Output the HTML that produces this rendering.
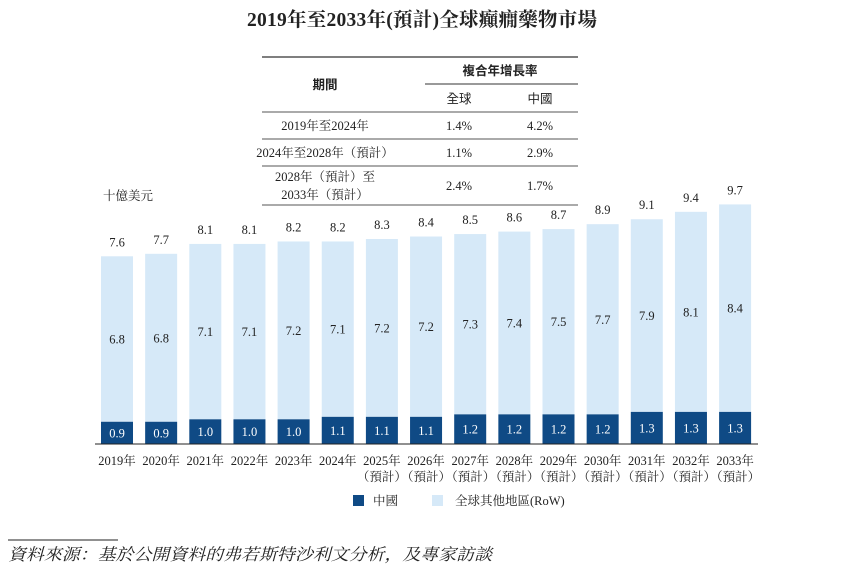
<!DOCTYPE html>
<html><head><meta charset="utf-8"><style>
body{margin:0;background:#fff;}
svg text{font-family:"Liberation Serif","Noto Serif CJK SC","Noto Sans CJK TC",serif;fill:#222;}
</style></head><body>
<svg id="c" width="845" height="583" xmlns="http://www.w3.org/2000/svg">
<text x="422" y="26" text-anchor="middle" font-size="19.5" font-weight="bold" textLength="350">2019年至2033年(預計)全球癲癇藥物市場</text>
<g font-size="12.5">
<line x1="262" y1="57" x2="578" y2="57" stroke="#333" stroke-width="1.2"/>
<line x1="425" y1="84" x2="578" y2="84" stroke="#333"/>
<line x1="262" y1="112" x2="578" y2="112" stroke="#555"/>
<line x1="262" y1="139" x2="578" y2="139" stroke="#555"/>
<line x1="262" y1="166" x2="578" y2="166" stroke="#555"/>
<line x1="262" y1="205" x2="578" y2="205" stroke="#555"/>
<text x="325" y="89" text-anchor="middle" font-weight="bold" style="font-family:'Noto Sans CJK TC',sans-serif">期間</text>
<text x="500" y="75" text-anchor="middle" font-weight="bold" style="font-family:'Noto Sans CJK TC',sans-serif">複合年增長率</text>
<text x="459" y="103" text-anchor="middle" style="font-family:'Noto Sans CJK TC',sans-serif">全球</text>
<text x="540" y="103" text-anchor="middle" style="font-family:'Noto Sans CJK TC',sans-serif">中國</text>
<text x="325" y="130" text-anchor="middle">2019年至2024年</text>
<text x="459" y="130" text-anchor="middle">1.4%</text>
<text x="540" y="130" text-anchor="middle">4.2%</text>
<text x="325" y="157" text-anchor="middle">2024年至2028年（預計）</text>
<text x="459" y="157" text-anchor="middle">1.1%</text>
<text x="540" y="157" text-anchor="middle">2.9%</text>
<text x="325" y="181" text-anchor="middle">2028年（預計）至</text>
<text x="325" y="199" text-anchor="middle">2033年（預計）</text>
<text x="459" y="190" text-anchor="middle">2.4%</text>
<text x="540" y="190" text-anchor="middle">1.7%</text>
</g>
<text x="103" y="200" font-size="12.5">十億美元</text>
<g id="bars"></g>
<line x1="95" y1="444" x2="758" y2="444" stroke="#222" stroke-width="1"/>
<g id="xl" font-size="12.5"></g>
<g font-size="12.5">
<rect x="353" y="495" width="11" height="11" fill="#0f4a85"/>
<text x="373" y="505">中國</text>
<rect x="432" y="495" width="11" height="11" fill="#d6e9f8"/>
<text x="455" y="505">全球其他地區(RoW)</text>
</g>
<line x1="8" y1="540" x2="118" y2="540" stroke="#222"/>
<text x="8" y="560" font-size="16.5" font-style="italic" textLength="484" lengthAdjust="spacingAndGlyphs">資料來源：基於公開資料的弗若斯特沙利文分析，及專家訪談</text>
</svg>
<script>
const years=["2019年","2020年","2021年","2022年","2023年","2024年","2025年","2026年","2027年","2028年","2029年","2030年","2031年","2032年","2033年"];
const forecast=[0,0,0,0,0,0,1,1,1,1,1,1,1,1,1];
const china=[0.9,0.9,1.0,1.0,1.0,1.1,1.1,1.1,1.2,1.2,1.2,1.2,1.3,1.3,1.3];
const row=[6.8,6.8,7.1,7.1,7.2,7.1,7.2,7.2,7.3,7.4,7.5,7.7,7.9,8.1,8.4];
const totals=[7.6,7.7,8.1,8.1,8.2,8.2,8.3,8.4,8.5,8.6,8.7,8.9,9.1,9.4,9.7];
const NS="http://www.w3.org/2000/svg";
const base=444,k=24.7,x0=101,pitch=44.15,bw=32;
const y=v=>base-v*k, x=i=>x0+i*pitch;
const gb=document.getElementById('bars'),gx=document.getElementById('xl');
function mk(tag,at,p){const e=document.createElementNS(NS,tag);for(const a in at)e.setAttribute(a,at[a]);p.appendChild(e);return e;}
years.forEach((yr,i)=>{
 const xc=x(i)+bw/2;
 const hc=china[i]*k, ht=totals[i]*k;
 const r=mk('rect',{x:x(i),y:y(totals[i]),width:bw,height:ht-hc,fill:'#d6e9f8'},gb);
 
 
 const c=mk('rect',{x:x(i),y:y(china[i]),width:bw,height:hc,fill:'#0f4a85'},gb);
 
 
 let t=mk('text',{x:xc,y:y(china[i])+hc/2+4.5,'text-anchor':'middle','font-size':12.5,style:'fill:#fff'},gb);t.textContent=china[i].toFixed(1);
 
 
 t=mk('text',{x:xc,y:(y(totals[i])+y(china[i]))/2+4.5,'text-anchor':'middle','font-size':12.5},gb);t.textContent=row[i].toFixed(1);
 
 
 t=mk('text',{x:xc,y:y(totals[i])-10,'text-anchor':'middle','font-size':12.5},gb);t.textContent=totals[i].toFixed(1);
 
 
 t=mk('text',{x:xc,y:465,'text-anchor':'middle'},gx);t.textContent=yr;
 
 
 if(forecast[i]){t=mk('text',{x:xc,y:481,'text-anchor':'middle'},gx);t.textContent='（預計）';
 
 }
});
</script>
</body></html>
